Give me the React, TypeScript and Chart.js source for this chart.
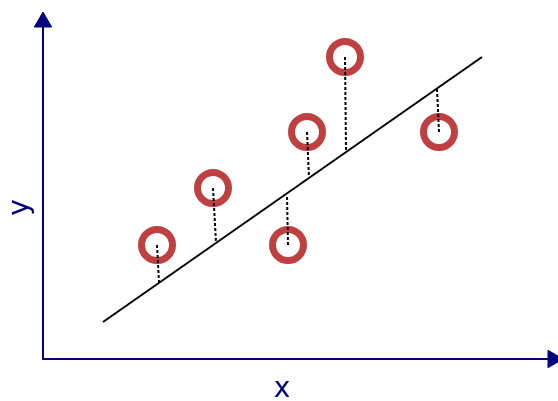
import { useEffect, useRef } from "react";
import { Chart, registerables } from "chart.js";

Chart.register(...registerables);

// Observations (data units, origin at axes corner)
const pointX = [11.4, 17.0, 24.5, 26.4, 30.2, 39.6];
const pointY = [11.4, 17.1, 11.4, 22.7, 30.2, 22.7];
// Feet of residual (dotted) segments on the fitted line
const footX = [11.6, 17.3, 24.4, 26.6, 30.3, 39.4];
const footY = [7.7, 11.7, 16.4, 18.2, 20.9, 27.0];
// Fitted regression line end points
const lineX = [6.0, 43.9];
const lineY = [3.7, 30.2];
// Axis extents (arrow centres)
const xAxisEnd = 51.0;
const yAxisEnd = 33.7;
// Axis labels
const labelTexts = ["x", "y"];
const labelX = [23.9, -1.55];
const labelY = [-3.8, 15.15];
const labelRot = [0, -90];

const NAVY = "#000080";
const RED = "rgb(191,64,64)";

const labelPlugin = {
  id: "axisLabels",
  afterDatasetsDraw(chart: any) {
    const { ctx, scales } = chart;
    ctx.save();
    ctx.fillStyle = NAVY;
    ctx.font = '28px "DejaVu Sans"';
    ctx.textAlign = "center";
    ctx.textBaseline = "alphabetic";
    labelTexts.forEach((t, i) => {
      const px = scales.x.getPixelForValue(labelX[i]);
      const py = scales.y.getPixelForValue(labelY[i]);
      ctx.save();
      ctx.translate(px, py);
      ctx.rotate((labelRot[i] * Math.PI) / 180);
      ctx.fillText(t, 0, 0);
      ctx.restore();
    });
    ctx.restore();
  },
};

export default function App() {
  const ref = useRef<HTMLCanvasElement>(null);
  useEffect(() => {
    if (!ref.current) return;
    const residuals = pointX.map((px, i) => ({
      type: "scatter" as const,
      data: [
        { x: px, y: pointY[i] },
        { x: footX[i], y: footY[i] },
      ],
      showLine: true,
      borderColor: "#000",
      borderWidth: 2,
      borderDash: [3, 2],
      pointRadius: 0,
      order: 1,
      clip: false as any,
    }));
    const chart = new Chart(ref.current, {
      type: "scatter",
      data: {
        datasets: [
          ...residuals,
          {
            data: pointX.map((x, i) => ({ x, y: pointY[i] })),
            pointRadius: 15.5,
            borderWidth: 7,
            borderColor: RED,
            backgroundColor: "rgba(0,0,0,0)",
            pointStyle: "circle",
            order: 2,
          },
          {
            data: lineX.map((x, i) => ({ x, y: lineY[i] })),
            showLine: true,
            borderColor: "#000",
            borderWidth: 2,
            pointRadius: 0,
            order: 3,
          },
          {
            data: [
              { x: 0, y: yAxisEnd },
              { x: 0, y: 0 },
              { x: xAxisEnd, y: 0 },
            ],
            showLine: true,
            borderColor: NAVY,
            borderWidth: 2,
            pointRadius: 0,
            order: 4,
            clip: false as any,
          },
          {
            data: [{ x: 0, y: yAxisEnd }],
            pointStyle: "triangle",
            pointRadius: 10,
            pointRotation: 0,
            backgroundColor: NAVY,
            borderColor: NAVY,
            borderWidth: 1,
            order: 0,
            clip: false as any,
          },
          {
            data: [{ x: xAxisEnd, y: 0 }],
            pointStyle: "triangle",
            pointRadius: 10,
            pointRotation: 90,
            backgroundColor: NAVY,
            borderColor: NAVY,
            borderWidth: 1,
            order: 0,
            clip: false as any,
          },
        ],
      },
      options: {
        animation: false,
        responsive: false,
        events: [],
        layout: { padding: 0, autoPadding: false },
        plugins: {
          legend: { display: false },
          tooltip: { enabled: false },
        },
        scales: {
          x: { type: "linear", min: -4.3, max: 51.5, display: false },
          y: { type: "linear", min: -4.2, max: 35.9, display: false },
        },
      },
      plugins: [labelPlugin],
    });
    return () => chart.destroy();
  }, []);
  return (
    <div style={{ position: "fixed", left: 0, top: 0, width: 558, height: 401, background: "#fff" }}>
      <canvas ref={ref} width={558} height={401} style={{ display: "block" }} />
    </div>
  );
}
